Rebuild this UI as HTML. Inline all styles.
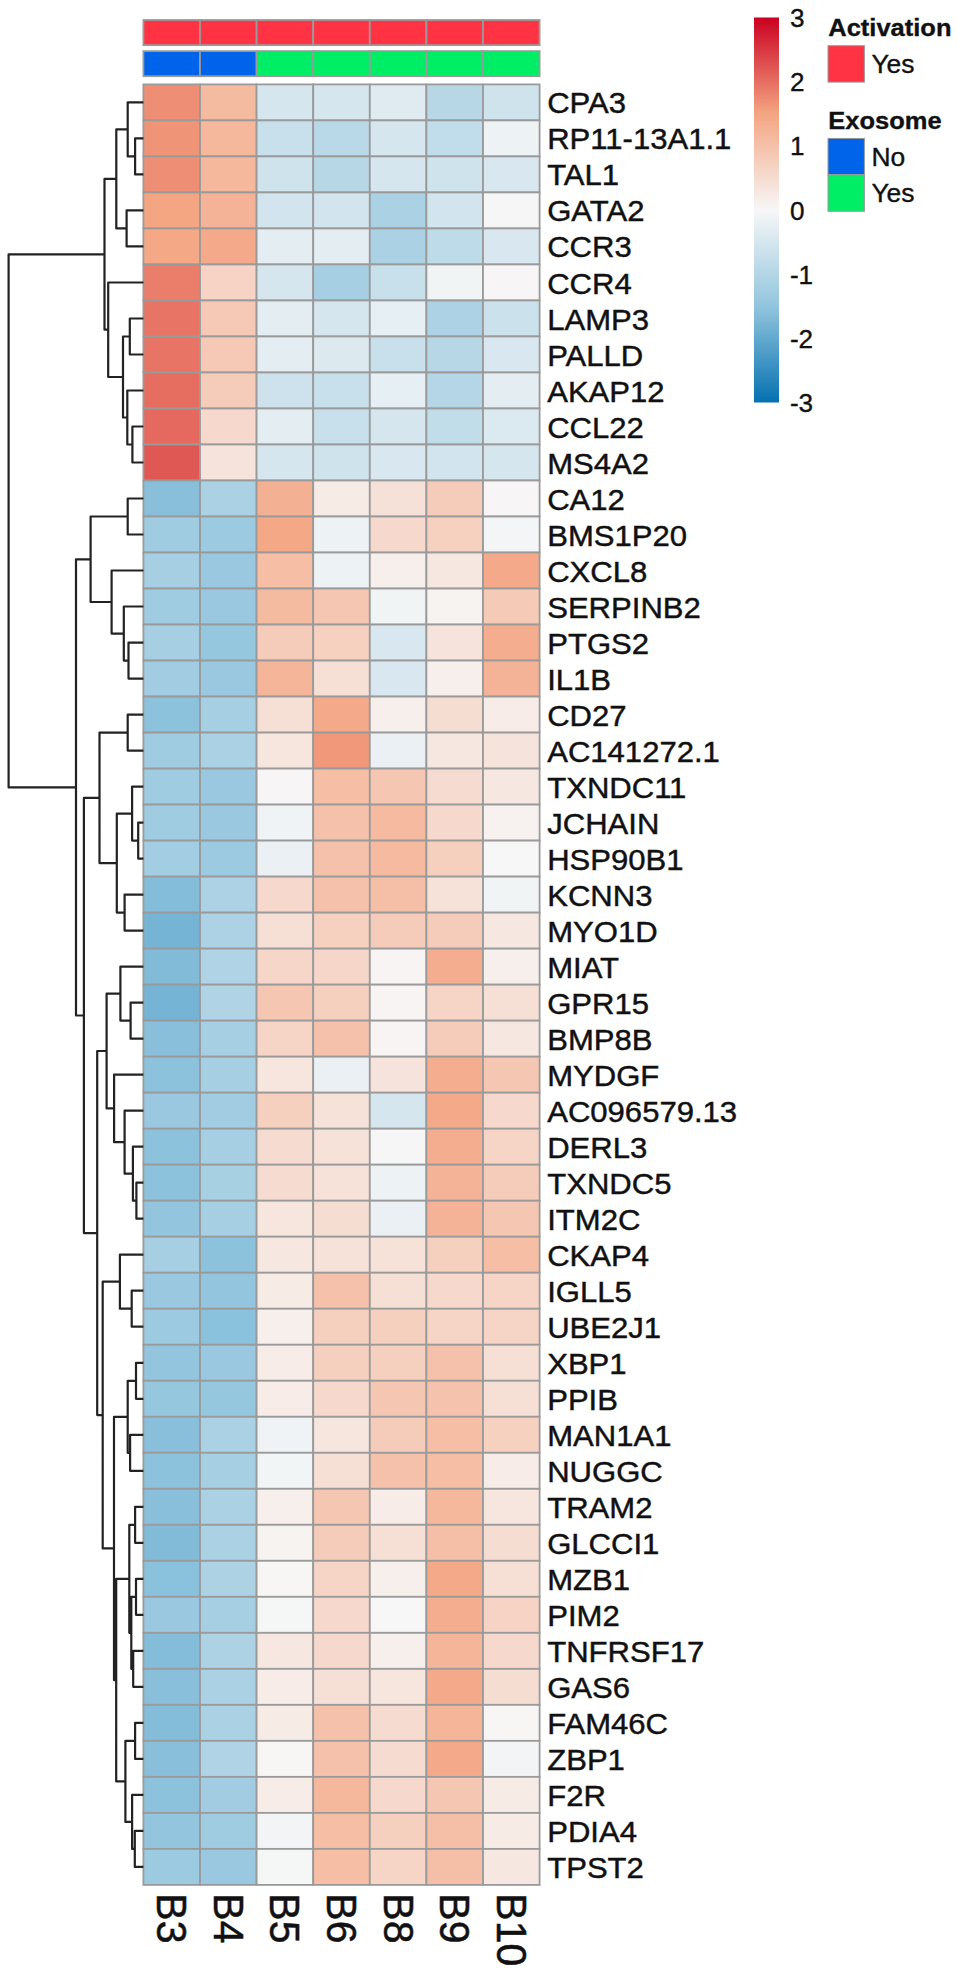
<!DOCTYPE html><html><head><meta charset="utf-8"><title>Heatmap</title><style>html,body{margin:0;padding:0;background:#fff}svg{display:block}</style></head><body>
<svg width="957" height="1974" viewBox="0 0 957 1974">
<rect width="957" height="1974" fill="#fff"/>
<defs><linearGradient id="lg" x1="0" y1="0" x2="0" y2="1"><stop offset="0" stop-color="#ca0020"/><stop offset="0.25" stop-color="#f4a582"/><stop offset="0.5" stop-color="#f7f7f7"/><stop offset="0.75" stop-color="#92c5de"/><stop offset="1" stop-color="#0571b0"/></linearGradient></defs>
<rect x="143.40" y="20.0" width="56.60" height="25.10" fill="#ff3344" stroke="#9a9a9a" stroke-width="1.8"/>
<rect x="200.00" y="20.0" width="56.60" height="25.10" fill="#ff3344" stroke="#9a9a9a" stroke-width="1.8"/>
<rect x="256.60" y="20.0" width="56.60" height="25.10" fill="#ff3344" stroke="#9a9a9a" stroke-width="1.8"/>
<rect x="313.20" y="20.0" width="56.60" height="25.10" fill="#ff3344" stroke="#9a9a9a" stroke-width="1.8"/>
<rect x="369.80" y="20.0" width="56.60" height="25.10" fill="#ff3344" stroke="#9a9a9a" stroke-width="1.8"/>
<rect x="426.40" y="20.0" width="56.60" height="25.10" fill="#ff3344" stroke="#9a9a9a" stroke-width="1.8"/>
<rect x="483.00" y="20.0" width="56.60" height="25.10" fill="#ff3344" stroke="#9a9a9a" stroke-width="1.8"/>
<rect x="143.40" y="51.1" width="56.60" height="25.10" fill="#0064eb" stroke="#9a9a9a" stroke-width="1.8"/>
<rect x="200.00" y="51.1" width="56.60" height="25.10" fill="#0064eb" stroke="#9a9a9a" stroke-width="1.8"/>
<rect x="256.60" y="51.1" width="56.60" height="25.10" fill="#00ee66" stroke="#9a9a9a" stroke-width="1.8"/>
<rect x="313.20" y="51.1" width="56.60" height="25.10" fill="#00ee66" stroke="#9a9a9a" stroke-width="1.8"/>
<rect x="369.80" y="51.1" width="56.60" height="25.10" fill="#00ee66" stroke="#9a9a9a" stroke-width="1.8"/>
<rect x="426.40" y="51.1" width="56.60" height="25.10" fill="#00ee66" stroke="#9a9a9a" stroke-width="1.8"/>
<rect x="483.00" y="51.1" width="56.60" height="25.10" fill="#00ee66" stroke="#9a9a9a" stroke-width="1.8"/>
<g stroke="#9a9a9a" stroke-width="1.8">
<rect x="143.40" y="84.40" width="56.60" height="36.01" fill="#ee8f75"/>
<rect x="200.00" y="84.40" width="56.60" height="36.01" fill="#f5bba1"/>
<rect x="256.60" y="84.40" width="56.60" height="36.01" fill="#d5e6ef"/>
<rect x="313.20" y="84.40" width="56.60" height="36.01" fill="#d5e6ef"/>
<rect x="369.80" y="84.40" width="56.60" height="36.01" fill="#dfebf1"/>
<rect x="426.40" y="84.40" width="56.60" height="36.01" fill="#b7d7e7"/>
<rect x="483.00" y="84.40" width="56.60" height="36.01" fill="#cfe3ed"/>
<rect x="143.40" y="120.41" width="56.60" height="36.01" fill="#f09478"/>
<rect x="200.00" y="120.41" width="56.60" height="36.01" fill="#f5b89d"/>
<rect x="256.60" y="120.41" width="56.60" height="36.01" fill="#c8e0eb"/>
<rect x="313.20" y="120.41" width="56.60" height="36.01" fill="#bad9e8"/>
<rect x="369.80" y="120.41" width="56.60" height="36.01" fill="#d5e6ef"/>
<rect x="426.40" y="120.41" width="56.60" height="36.01" fill="#c1dcea"/>
<rect x="483.00" y="120.41" width="56.60" height="36.01" fill="#edf2f4"/>
<rect x="143.40" y="156.42" width="56.60" height="36.01" fill="#ee8f75"/>
<rect x="200.00" y="156.42" width="56.60" height="36.01" fill="#f5b89d"/>
<rect x="256.60" y="156.42" width="56.60" height="36.01" fill="#cfe3ed"/>
<rect x="313.20" y="156.42" width="56.60" height="36.01" fill="#b7d7e7"/>
<rect x="369.80" y="156.42" width="56.60" height="36.01" fill="#d5e6ef"/>
<rect x="426.40" y="156.42" width="56.60" height="36.01" fill="#cfe3ed"/>
<rect x="483.00" y="156.42" width="56.60" height="36.01" fill="#d9e8f0"/>
<rect x="143.40" y="192.43" width="56.60" height="36.01" fill="#f4a582"/>
<rect x="200.00" y="192.43" width="56.60" height="36.01" fill="#f4b396"/>
<rect x="256.60" y="192.43" width="56.60" height="36.01" fill="#d2e5ee"/>
<rect x="313.20" y="192.43" width="56.60" height="36.01" fill="#d2e5ee"/>
<rect x="369.80" y="192.43" width="56.60" height="36.01" fill="#aad1e4"/>
<rect x="426.40" y="192.43" width="56.60" height="36.01" fill="#d2e5ee"/>
<rect x="483.00" y="192.43" width="56.60" height="36.01" fill="#f6f6f7"/>
<rect x="143.40" y="228.44" width="56.60" height="36.01" fill="#f4a886"/>
<rect x="200.00" y="228.44" width="56.60" height="36.01" fill="#f4aa8a"/>
<rect x="256.60" y="228.44" width="56.60" height="36.01" fill="#e3edf2"/>
<rect x="313.20" y="228.44" width="56.60" height="36.01" fill="#e3edf2"/>
<rect x="369.80" y="228.44" width="56.60" height="36.01" fill="#aad1e4"/>
<rect x="426.40" y="228.44" width="56.60" height="36.01" fill="#bedbe9"/>
<rect x="483.00" y="228.44" width="56.60" height="36.01" fill="#d9e8f0"/>
<rect x="143.40" y="264.45" width="56.60" height="36.01" fill="#ea7e6b"/>
<rect x="200.00" y="264.45" width="56.60" height="36.01" fill="#f6d3c4"/>
<rect x="256.60" y="264.45" width="56.60" height="36.01" fill="#d5e6ef"/>
<rect x="313.20" y="264.45" width="56.60" height="36.01" fill="#a6cfe3"/>
<rect x="369.80" y="264.45" width="56.60" height="36.01" fill="#c8e0eb"/>
<rect x="426.40" y="264.45" width="56.60" height="36.01" fill="#f0f4f5"/>
<rect x="483.00" y="264.45" width="56.60" height="36.01" fill="#f7f5f5"/>
<rect x="143.40" y="300.46" width="56.60" height="36.01" fill="#e77465"/>
<rect x="200.00" y="300.46" width="56.60" height="36.01" fill="#f5c9b5"/>
<rect x="256.60" y="300.46" width="56.60" height="36.01" fill="#e3edf2"/>
<rect x="313.20" y="300.46" width="56.60" height="36.01" fill="#d5e6ef"/>
<rect x="369.80" y="300.46" width="56.60" height="36.01" fill="#e6eff3"/>
<rect x="426.40" y="300.46" width="56.60" height="36.01" fill="#add2e5"/>
<rect x="483.00" y="300.46" width="56.60" height="36.01" fill="#cbe1ec"/>
<rect x="143.40" y="336.47" width="56.60" height="36.01" fill="#e77465"/>
<rect x="200.00" y="336.47" width="56.60" height="36.01" fill="#f5c9b5"/>
<rect x="256.60" y="336.47" width="56.60" height="36.01" fill="#e3edf2"/>
<rect x="313.20" y="336.47" width="56.60" height="36.01" fill="#dceaf0"/>
<rect x="369.80" y="336.47" width="56.60" height="36.01" fill="#c8e0eb"/>
<rect x="426.40" y="336.47" width="56.60" height="36.01" fill="#b7d7e7"/>
<rect x="483.00" y="336.47" width="56.60" height="36.01" fill="#d9e8f0"/>
<rect x="143.40" y="372.48" width="56.60" height="36.01" fill="#e66e61"/>
<rect x="200.00" y="372.48" width="56.60" height="36.01" fill="#f5ccba"/>
<rect x="256.60" y="372.48" width="56.60" height="36.01" fill="#cde2ed"/>
<rect x="313.20" y="372.48" width="56.60" height="36.01" fill="#c8e0eb"/>
<rect x="369.80" y="372.48" width="56.60" height="36.01" fill="#e6eff3"/>
<rect x="426.40" y="372.48" width="56.60" height="36.01" fill="#b4d6e6"/>
<rect x="483.00" y="372.48" width="56.60" height="36.01" fill="#e3edf2"/>
<rect x="143.40" y="408.49" width="56.60" height="36.01" fill="#e5695e"/>
<rect x="200.00" y="408.49" width="56.60" height="36.01" fill="#f6d9cc"/>
<rect x="256.60" y="408.49" width="56.60" height="36.01" fill="#e3edf2"/>
<rect x="313.20" y="408.49" width="56.60" height="36.01" fill="#c8e0eb"/>
<rect x="369.80" y="408.49" width="56.60" height="36.01" fill="#d5e6ef"/>
<rect x="426.40" y="408.49" width="56.60" height="36.01" fill="#c2ddea"/>
<rect x="483.00" y="408.49" width="56.60" height="36.01" fill="#dbe9f0"/>
<rect x="143.40" y="444.50" width="56.60" height="36.01" fill="#e05854"/>
<rect x="200.00" y="444.50" width="56.60" height="36.01" fill="#f6e4dc"/>
<rect x="256.60" y="444.50" width="56.60" height="36.01" fill="#d5e6ef"/>
<rect x="313.20" y="444.50" width="56.60" height="36.01" fill="#cfe3ed"/>
<rect x="369.80" y="444.50" width="56.60" height="36.01" fill="#d9e8f0"/>
<rect x="426.40" y="444.50" width="56.60" height="36.01" fill="#d2e5ee"/>
<rect x="483.00" y="444.50" width="56.60" height="36.01" fill="#d5e6ef"/>
<rect x="143.40" y="480.51" width="56.60" height="36.01" fill="#89bfdb"/>
<rect x="200.00" y="480.51" width="56.60" height="36.01" fill="#aad1e4"/>
<rect x="256.60" y="480.51" width="56.60" height="36.01" fill="#f4b092"/>
<rect x="313.20" y="480.51" width="56.60" height="36.01" fill="#f7ebe6"/>
<rect x="369.80" y="480.51" width="56.60" height="36.01" fill="#f6e1d8"/>
<rect x="426.40" y="480.51" width="56.60" height="36.01" fill="#f5ccba"/>
<rect x="483.00" y="480.51" width="56.60" height="36.01" fill="#f7f5f5"/>
<rect x="143.40" y="516.52" width="56.60" height="36.01" fill="#9fcce1"/>
<rect x="200.00" y="516.52" width="56.60" height="36.01" fill="#9ccae0"/>
<rect x="256.60" y="516.52" width="56.60" height="36.01" fill="#f4a886"/>
<rect x="313.20" y="516.52" width="56.60" height="36.01" fill="#edf2f4"/>
<rect x="369.80" y="516.52" width="56.60" height="36.01" fill="#f6d9cc"/>
<rect x="426.40" y="516.52" width="56.60" height="36.01" fill="#f6d1c0"/>
<rect x="483.00" y="516.52" width="56.60" height="36.01" fill="#f4f5f6"/>
<rect x="143.40" y="552.53" width="56.60" height="36.01" fill="#a6cfe3"/>
<rect x="200.00" y="552.53" width="56.60" height="36.01" fill="#99c8e0"/>
<rect x="256.60" y="552.53" width="56.60" height="36.01" fill="#f5bea5"/>
<rect x="313.20" y="552.53" width="56.60" height="36.01" fill="#edf2f4"/>
<rect x="369.80" y="552.53" width="56.60" height="36.01" fill="#f7efeb"/>
<rect x="426.40" y="552.53" width="56.60" height="36.01" fill="#f6e7e0"/>
<rect x="483.00" y="552.53" width="56.60" height="36.01" fill="#f4aa8a"/>
<rect x="143.40" y="588.54" width="56.60" height="36.01" fill="#9fcce1"/>
<rect x="200.00" y="588.54" width="56.60" height="36.01" fill="#99c8e0"/>
<rect x="256.60" y="588.54" width="56.60" height="36.01" fill="#f5bba1"/>
<rect x="313.20" y="588.54" width="56.60" height="36.01" fill="#f5c7b2"/>
<rect x="369.80" y="588.54" width="56.60" height="36.01" fill="#f0f4f5"/>
<rect x="426.40" y="588.54" width="56.60" height="36.01" fill="#f7f3f1"/>
<rect x="483.00" y="588.54" width="56.60" height="36.01" fill="#f5cab7"/>
<rect x="143.40" y="624.55" width="56.60" height="36.01" fill="#a6cfe3"/>
<rect x="200.00" y="624.55" width="56.60" height="36.01" fill="#95c7df"/>
<rect x="256.60" y="624.55" width="56.60" height="36.01" fill="#f5ccba"/>
<rect x="313.20" y="624.55" width="56.60" height="36.01" fill="#f6d1c0"/>
<rect x="369.80" y="624.55" width="56.60" height="36.01" fill="#d9e8f0"/>
<rect x="426.40" y="624.55" width="56.60" height="36.01" fill="#f6e4dc"/>
<rect x="483.00" y="624.55" width="56.60" height="36.01" fill="#f4ad8e"/>
<rect x="143.40" y="660.56" width="56.60" height="36.01" fill="#a1cce2"/>
<rect x="200.00" y="660.56" width="56.60" height="36.01" fill="#99c8e0"/>
<rect x="256.60" y="660.56" width="56.60" height="36.01" fill="#f5b599"/>
<rect x="313.20" y="660.56" width="56.60" height="36.01" fill="#f6e0d6"/>
<rect x="369.80" y="660.56" width="56.60" height="36.01" fill="#d9e8f0"/>
<rect x="426.40" y="660.56" width="56.60" height="36.01" fill="#f7efeb"/>
<rect x="483.00" y="660.56" width="56.60" height="36.01" fill="#f4b396"/>
<rect x="143.40" y="696.57" width="56.60" height="36.01" fill="#8dc2dc"/>
<rect x="200.00" y="696.57" width="56.60" height="36.01" fill="#a6cfe3"/>
<rect x="256.60" y="696.57" width="56.60" height="36.01" fill="#f6e0d6"/>
<rect x="313.20" y="696.57" width="56.60" height="36.01" fill="#f4aa8a"/>
<rect x="369.80" y="696.57" width="56.60" height="36.01" fill="#f7efeb"/>
<rect x="426.40" y="696.57" width="56.60" height="36.01" fill="#f6ddd2"/>
<rect x="483.00" y="696.57" width="56.60" height="36.01" fill="#f7ece7"/>
<rect x="143.40" y="732.58" width="56.60" height="36.01" fill="#9fcce1"/>
<rect x="200.00" y="732.58" width="56.60" height="36.01" fill="#aad1e4"/>
<rect x="256.60" y="732.58" width="56.60" height="36.01" fill="#f6e6de"/>
<rect x="313.20" y="732.58" width="56.60" height="36.01" fill="#f1987a"/>
<rect x="369.80" y="732.58" width="56.60" height="36.01" fill="#eaf0f4"/>
<rect x="426.40" y="732.58" width="56.60" height="36.01" fill="#f6e8e1"/>
<rect x="483.00" y="732.58" width="56.60" height="36.01" fill="#f6e3db"/>
<rect x="143.40" y="768.59" width="56.60" height="36.01" fill="#9fcce1"/>
<rect x="200.00" y="768.59" width="56.60" height="36.01" fill="#99c8e0"/>
<rect x="256.60" y="768.59" width="56.60" height="36.01" fill="#f7f5f5"/>
<rect x="313.20" y="768.59" width="56.60" height="36.01" fill="#f5bea5"/>
<rect x="369.80" y="768.59" width="56.60" height="36.01" fill="#f5c6b1"/>
<rect x="426.40" y="768.59" width="56.60" height="36.01" fill="#f6dcd0"/>
<rect x="483.00" y="768.59" width="56.60" height="36.01" fill="#f6e8e1"/>
<rect x="143.40" y="804.60" width="56.60" height="36.01" fill="#9fcce1"/>
<rect x="200.00" y="804.60" width="56.60" height="36.01" fill="#99c8e0"/>
<rect x="256.60" y="804.60" width="56.60" height="36.01" fill="#eff3f5"/>
<rect x="313.20" y="804.60" width="56.60" height="36.01" fill="#f5c1ab"/>
<rect x="369.80" y="804.60" width="56.60" height="36.01" fill="#f5baa0"/>
<rect x="426.40" y="804.60" width="56.60" height="36.01" fill="#f6d9cc"/>
<rect x="483.00" y="804.60" width="56.60" height="36.01" fill="#f7f2ef"/>
<rect x="143.40" y="840.61" width="56.60" height="36.01" fill="#a3cde2"/>
<rect x="200.00" y="840.61" width="56.60" height="36.01" fill="#9ccae0"/>
<rect x="256.60" y="840.61" width="56.60" height="36.01" fill="#eaf0f4"/>
<rect x="313.20" y="840.61" width="56.60" height="36.01" fill="#f5c1ab"/>
<rect x="369.80" y="840.61" width="56.60" height="36.01" fill="#f5baa0"/>
<rect x="426.40" y="840.61" width="56.60" height="36.01" fill="#f6d0bf"/>
<rect x="483.00" y="840.61" width="56.60" height="36.01" fill="#f7f7f7"/>
<rect x="143.40" y="876.62" width="56.60" height="36.01" fill="#84bdd9"/>
<rect x="200.00" y="876.62" width="56.60" height="36.01" fill="#add2e5"/>
<rect x="256.60" y="876.62" width="56.60" height="36.01" fill="#f6d9cc"/>
<rect x="313.20" y="876.62" width="56.60" height="36.01" fill="#f5c1ab"/>
<rect x="369.80" y="876.62" width="56.60" height="36.01" fill="#f5bfa7"/>
<rect x="426.40" y="876.62" width="56.60" height="36.01" fill="#f6e2d9"/>
<rect x="483.00" y="876.62" width="56.60" height="36.01" fill="#f0f4f5"/>
<rect x="143.40" y="912.63" width="56.60" height="36.01" fill="#76b4d5"/>
<rect x="200.00" y="912.63" width="56.60" height="36.01" fill="#add2e5"/>
<rect x="256.60" y="912.63" width="56.60" height="36.01" fill="#f6e0d6"/>
<rect x="313.20" y="912.63" width="56.60" height="36.01" fill="#f6d1c0"/>
<rect x="369.80" y="912.63" width="56.60" height="36.01" fill="#f5ccba"/>
<rect x="426.40" y="912.63" width="56.60" height="36.01" fill="#f5ccba"/>
<rect x="483.00" y="912.63" width="56.60" height="36.01" fill="#f6e8e1"/>
<rect x="143.40" y="948.64" width="56.60" height="36.01" fill="#81bbd8"/>
<rect x="200.00" y="948.64" width="56.60" height="36.01" fill="#b0d4e6"/>
<rect x="256.60" y="948.64" width="56.60" height="36.01" fill="#f6d6c8"/>
<rect x="313.20" y="948.64" width="56.60" height="36.01" fill="#f6d6c8"/>
<rect x="369.80" y="948.64" width="56.60" height="36.01" fill="#f7f4f3"/>
<rect x="426.40" y="948.64" width="56.60" height="36.01" fill="#f4ad8e"/>
<rect x="483.00" y="948.64" width="56.60" height="36.01" fill="#f7efeb"/>
<rect x="143.40" y="984.65" width="56.60" height="36.01" fill="#76b4d5"/>
<rect x="200.00" y="984.65" width="56.60" height="36.01" fill="#b0d4e6"/>
<rect x="256.60" y="984.65" width="56.60" height="36.01" fill="#f5c7b2"/>
<rect x="313.20" y="984.65" width="56.60" height="36.01" fill="#f6d0bf"/>
<rect x="369.80" y="984.65" width="56.60" height="36.01" fill="#f7f4f3"/>
<rect x="426.40" y="984.65" width="56.60" height="36.01" fill="#f6d5c7"/>
<rect x="483.00" y="984.65" width="56.60" height="36.01" fill="#f6e0d6"/>
<rect x="143.40" y="1020.66" width="56.60" height="36.01" fill="#89bfdb"/>
<rect x="200.00" y="1020.66" width="56.60" height="36.01" fill="#a6cfe3"/>
<rect x="256.60" y="1020.66" width="56.60" height="36.01" fill="#f6d5c7"/>
<rect x="313.20" y="1020.66" width="56.60" height="36.01" fill="#f5c1ab"/>
<rect x="369.80" y="1020.66" width="56.60" height="36.01" fill="#f7f4f3"/>
<rect x="426.40" y="1020.66" width="56.60" height="36.01" fill="#f5ccba"/>
<rect x="483.00" y="1020.66" width="56.60" height="36.01" fill="#f6e8e1"/>
<rect x="143.40" y="1056.67" width="56.60" height="36.01" fill="#8dc2dc"/>
<rect x="200.00" y="1056.67" width="56.60" height="36.01" fill="#a6cfe3"/>
<rect x="256.60" y="1056.67" width="56.60" height="36.01" fill="#f6e6de"/>
<rect x="313.20" y="1056.67" width="56.60" height="36.01" fill="#eaf0f4"/>
<rect x="369.80" y="1056.67" width="56.60" height="36.01" fill="#f6e4dc"/>
<rect x="426.40" y="1056.67" width="56.60" height="36.01" fill="#f4ad8e"/>
<rect x="483.00" y="1056.67" width="56.60" height="36.01" fill="#f5c7b2"/>
<rect x="143.40" y="1092.68" width="56.60" height="36.01" fill="#99c8e0"/>
<rect x="200.00" y="1092.68" width="56.60" height="36.01" fill="#a1cce2"/>
<rect x="256.60" y="1092.68" width="56.60" height="36.01" fill="#f6d0bf"/>
<rect x="313.20" y="1092.68" width="56.60" height="36.01" fill="#f6e2d9"/>
<rect x="369.80" y="1092.68" width="56.60" height="36.01" fill="#d5e6ef"/>
<rect x="426.40" y="1092.68" width="56.60" height="36.01" fill="#f4a988"/>
<rect x="483.00" y="1092.68" width="56.60" height="36.01" fill="#f6d9cc"/>
<rect x="143.40" y="1128.69" width="56.60" height="36.01" fill="#8dc2dc"/>
<rect x="200.00" y="1128.69" width="56.60" height="36.01" fill="#a6cfe3"/>
<rect x="256.60" y="1128.69" width="56.60" height="36.01" fill="#f6dcd0"/>
<rect x="313.20" y="1128.69" width="56.60" height="36.01" fill="#f6e2d9"/>
<rect x="369.80" y="1128.69" width="56.60" height="36.01" fill="#f6f6f7"/>
<rect x="426.40" y="1128.69" width="56.60" height="36.01" fill="#f4ad8e"/>
<rect x="483.00" y="1128.69" width="56.60" height="36.01" fill="#f6d5c7"/>
<rect x="143.40" y="1164.70" width="56.60" height="36.01" fill="#8dc2dc"/>
<rect x="200.00" y="1164.70" width="56.60" height="36.01" fill="#a8d0e3"/>
<rect x="256.60" y="1164.70" width="56.60" height="36.01" fill="#f6dcd0"/>
<rect x="313.20" y="1164.70" width="56.60" height="36.01" fill="#f6e2d9"/>
<rect x="369.80" y="1164.70" width="56.60" height="36.01" fill="#edf2f4"/>
<rect x="426.40" y="1164.70" width="56.60" height="36.01" fill="#f4b396"/>
<rect x="483.00" y="1164.70" width="56.60" height="36.01" fill="#f5ccba"/>
<rect x="143.40" y="1200.71" width="56.60" height="36.01" fill="#93c6de"/>
<rect x="200.00" y="1200.71" width="56.60" height="36.01" fill="#a6cfe3"/>
<rect x="256.60" y="1200.71" width="56.60" height="36.01" fill="#f6e6de"/>
<rect x="313.20" y="1200.71" width="56.60" height="36.01" fill="#f6ddd2"/>
<rect x="369.80" y="1200.71" width="56.60" height="36.01" fill="#eaf0f4"/>
<rect x="426.40" y="1200.71" width="56.60" height="36.01" fill="#f4b396"/>
<rect x="483.00" y="1200.71" width="56.60" height="36.01" fill="#f5c7b2"/>
<rect x="143.40" y="1236.72" width="56.60" height="36.01" fill="#a6cfe3"/>
<rect x="200.00" y="1236.72" width="56.60" height="36.01" fill="#8dc2dc"/>
<rect x="256.60" y="1236.72" width="56.60" height="36.01" fill="#f6e8e1"/>
<rect x="313.20" y="1236.72" width="56.60" height="36.01" fill="#f6e2d9"/>
<rect x="369.80" y="1236.72" width="56.60" height="36.01" fill="#f6e2d9"/>
<rect x="426.40" y="1236.72" width="56.60" height="36.01" fill="#f6d0bf"/>
<rect x="483.00" y="1236.72" width="56.60" height="36.01" fill="#f5bea5"/>
<rect x="143.40" y="1272.73" width="56.60" height="36.01" fill="#99c8e0"/>
<rect x="200.00" y="1272.73" width="56.60" height="36.01" fill="#93c6de"/>
<rect x="256.60" y="1272.73" width="56.60" height="36.01" fill="#f7ebe6"/>
<rect x="313.20" y="1272.73" width="56.60" height="36.01" fill="#f5c1ab"/>
<rect x="369.80" y="1272.73" width="56.60" height="36.01" fill="#f6e0d6"/>
<rect x="426.40" y="1272.73" width="56.60" height="36.01" fill="#f6d9cc"/>
<rect x="483.00" y="1272.73" width="56.60" height="36.01" fill="#f6d5c7"/>
<rect x="143.40" y="1308.74" width="56.60" height="36.01" fill="#9ccae0"/>
<rect x="200.00" y="1308.74" width="56.60" height="36.01" fill="#8ac1dc"/>
<rect x="256.60" y="1308.74" width="56.60" height="36.01" fill="#f7efeb"/>
<rect x="313.20" y="1308.74" width="56.60" height="36.01" fill="#f6d0bf"/>
<rect x="369.80" y="1308.74" width="56.60" height="36.01" fill="#f6d0bf"/>
<rect x="426.40" y="1308.74" width="56.60" height="36.01" fill="#f6d5c7"/>
<rect x="483.00" y="1308.74" width="56.60" height="36.01" fill="#f6d5c7"/>
<rect x="143.40" y="1344.75" width="56.60" height="36.01" fill="#93c6de"/>
<rect x="200.00" y="1344.75" width="56.60" height="36.01" fill="#99c8e0"/>
<rect x="256.60" y="1344.75" width="56.60" height="36.01" fill="#f7ece7"/>
<rect x="313.20" y="1344.75" width="56.60" height="36.01" fill="#f6d0bf"/>
<rect x="369.80" y="1344.75" width="56.60" height="36.01" fill="#f6d0bf"/>
<rect x="426.40" y="1344.75" width="56.60" height="36.01" fill="#f5c1ab"/>
<rect x="483.00" y="1344.75" width="56.60" height="36.01" fill="#f6e0d6"/>
<rect x="143.40" y="1380.76" width="56.60" height="36.01" fill="#95c7df"/>
<rect x="200.00" y="1380.76" width="56.60" height="36.01" fill="#95c7df"/>
<rect x="256.60" y="1380.76" width="56.60" height="36.01" fill="#f7ece7"/>
<rect x="313.20" y="1380.76" width="56.60" height="36.01" fill="#f6d9cc"/>
<rect x="369.80" y="1380.76" width="56.60" height="36.01" fill="#f5c7b2"/>
<rect x="426.40" y="1380.76" width="56.60" height="36.01" fill="#f5c3ad"/>
<rect x="483.00" y="1380.76" width="56.60" height="36.01" fill="#f6e0d6"/>
<rect x="143.40" y="1416.77" width="56.60" height="36.01" fill="#89bfdb"/>
<rect x="200.00" y="1416.77" width="56.60" height="36.01" fill="#aad1e4"/>
<rect x="256.60" y="1416.77" width="56.60" height="36.01" fill="#eff3f5"/>
<rect x="313.20" y="1416.77" width="56.60" height="36.01" fill="#f6e6de"/>
<rect x="369.80" y="1416.77" width="56.60" height="36.01" fill="#f5ccba"/>
<rect x="426.40" y="1416.77" width="56.60" height="36.01" fill="#f5bea5"/>
<rect x="483.00" y="1416.77" width="56.60" height="36.01" fill="#f6d1c0"/>
<rect x="143.40" y="1452.78" width="56.60" height="36.01" fill="#8dc2dc"/>
<rect x="200.00" y="1452.78" width="56.60" height="36.01" fill="#a6cfe3"/>
<rect x="256.60" y="1452.78" width="56.60" height="36.01" fill="#f2f5f6"/>
<rect x="313.20" y="1452.78" width="56.60" height="36.01" fill="#f6e0d6"/>
<rect x="369.80" y="1452.78" width="56.60" height="36.01" fill="#f5c1ab"/>
<rect x="426.40" y="1452.78" width="56.60" height="36.01" fill="#f5bea5"/>
<rect x="483.00" y="1452.78" width="56.60" height="36.01" fill="#f7ece7"/>
<rect x="143.40" y="1488.79" width="56.60" height="36.01" fill="#89bfdb"/>
<rect x="200.00" y="1488.79" width="56.60" height="36.01" fill="#aad1e4"/>
<rect x="256.60" y="1488.79" width="56.60" height="36.01" fill="#f7efeb"/>
<rect x="313.20" y="1488.79" width="56.60" height="36.01" fill="#f5c7b2"/>
<rect x="369.80" y="1488.79" width="56.60" height="36.01" fill="#f7ece7"/>
<rect x="426.40" y="1488.79" width="56.60" height="36.01" fill="#f5b89d"/>
<rect x="483.00" y="1488.79" width="56.60" height="36.01" fill="#f6e6de"/>
<rect x="143.40" y="1524.80" width="56.60" height="36.01" fill="#81bbd8"/>
<rect x="200.00" y="1524.80" width="56.60" height="36.01" fill="#aad1e4"/>
<rect x="256.60" y="1524.80" width="56.60" height="36.01" fill="#f7f3f1"/>
<rect x="313.20" y="1524.80" width="56.60" height="36.01" fill="#f5ccba"/>
<rect x="369.80" y="1524.80" width="56.60" height="36.01" fill="#f6e0d6"/>
<rect x="426.40" y="1524.80" width="56.60" height="36.01" fill="#f5bfa7"/>
<rect x="483.00" y="1524.80" width="56.60" height="36.01" fill="#f6ddd2"/>
<rect x="143.40" y="1560.81" width="56.60" height="36.01" fill="#8ac1dc"/>
<rect x="200.00" y="1560.81" width="56.60" height="36.01" fill="#acd2e4"/>
<rect x="256.60" y="1560.81" width="56.60" height="36.01" fill="#f7f6f5"/>
<rect x="313.20" y="1560.81" width="56.60" height="36.01" fill="#f6d5c7"/>
<rect x="369.80" y="1560.81" width="56.60" height="36.01" fill="#f7efeb"/>
<rect x="426.40" y="1560.81" width="56.60" height="36.01" fill="#f4a988"/>
<rect x="483.00" y="1560.81" width="56.60" height="36.01" fill="#f6e0d6"/>
<rect x="143.40" y="1596.82" width="56.60" height="36.01" fill="#99c8e0"/>
<rect x="200.00" y="1596.82" width="56.60" height="36.01" fill="#a6cfe3"/>
<rect x="256.60" y="1596.82" width="56.60" height="36.01" fill="#f5f6f6"/>
<rect x="313.20" y="1596.82" width="56.60" height="36.01" fill="#f6d9cc"/>
<rect x="369.80" y="1596.82" width="56.60" height="36.01" fill="#f7f7f7"/>
<rect x="426.40" y="1596.82" width="56.60" height="36.01" fill="#f4ad8e"/>
<rect x="483.00" y="1596.82" width="56.60" height="36.01" fill="#f6d3c4"/>
<rect x="143.40" y="1632.83" width="56.60" height="36.01" fill="#84bdd9"/>
<rect x="200.00" y="1632.83" width="56.60" height="36.01" fill="#acd2e4"/>
<rect x="256.60" y="1632.83" width="56.60" height="36.01" fill="#f6e8e1"/>
<rect x="313.20" y="1632.83" width="56.60" height="36.01" fill="#f6d9cc"/>
<rect x="369.80" y="1632.83" width="56.60" height="36.01" fill="#f7efeb"/>
<rect x="426.40" y="1632.83" width="56.60" height="36.01" fill="#f5b599"/>
<rect x="483.00" y="1632.83" width="56.60" height="36.01" fill="#f6d9cc"/>
<rect x="143.40" y="1668.84" width="56.60" height="36.01" fill="#89bfdb"/>
<rect x="200.00" y="1668.84" width="56.60" height="36.01" fill="#aad1e4"/>
<rect x="256.60" y="1668.84" width="56.60" height="36.01" fill="#f7ece7"/>
<rect x="313.20" y="1668.84" width="56.60" height="36.01" fill="#f6e0d6"/>
<rect x="369.80" y="1668.84" width="56.60" height="36.01" fill="#f6e6de"/>
<rect x="426.40" y="1668.84" width="56.60" height="36.01" fill="#f4aa8a"/>
<rect x="483.00" y="1668.84" width="56.60" height="36.01" fill="#f6ddd2"/>
<rect x="143.40" y="1704.85" width="56.60" height="36.01" fill="#84bdd9"/>
<rect x="200.00" y="1704.85" width="56.60" height="36.01" fill="#aad1e4"/>
<rect x="256.60" y="1704.85" width="56.60" height="36.01" fill="#f7ebe6"/>
<rect x="313.20" y="1704.85" width="56.60" height="36.01" fill="#f5c1ab"/>
<rect x="369.80" y="1704.85" width="56.60" height="36.01" fill="#f6dcd0"/>
<rect x="426.40" y="1704.85" width="56.60" height="36.01" fill="#f5b599"/>
<rect x="483.00" y="1704.85" width="56.60" height="36.01" fill="#f7f6f5"/>
<rect x="143.40" y="1740.86" width="56.60" height="36.01" fill="#89bfdb"/>
<rect x="200.00" y="1740.86" width="56.60" height="36.01" fill="#b0d4e6"/>
<rect x="256.60" y="1740.86" width="56.60" height="36.01" fill="#f7f6f5"/>
<rect x="313.20" y="1740.86" width="56.60" height="36.01" fill="#f5c1ab"/>
<rect x="369.80" y="1740.86" width="56.60" height="36.01" fill="#f6dcd0"/>
<rect x="426.40" y="1740.86" width="56.60" height="36.01" fill="#f4aa8a"/>
<rect x="483.00" y="1740.86" width="56.60" height="36.01" fill="#f2f4f6"/>
<rect x="143.40" y="1776.87" width="56.60" height="36.01" fill="#8dc2dc"/>
<rect x="200.00" y="1776.87" width="56.60" height="36.01" fill="#a1cce2"/>
<rect x="256.60" y="1776.87" width="56.60" height="36.01" fill="#f7ece7"/>
<rect x="313.20" y="1776.87" width="56.60" height="36.01" fill="#f5b89d"/>
<rect x="369.80" y="1776.87" width="56.60" height="36.01" fill="#f6d9cc"/>
<rect x="426.40" y="1776.87" width="56.60" height="36.01" fill="#f5c7b2"/>
<rect x="483.00" y="1776.87" width="56.60" height="36.01" fill="#f7ebe6"/>
<rect x="143.40" y="1812.88" width="56.60" height="36.01" fill="#93c6de"/>
<rect x="200.00" y="1812.88" width="56.60" height="36.01" fill="#9fcce1"/>
<rect x="256.60" y="1812.88" width="56.60" height="36.01" fill="#f2f4f6"/>
<rect x="313.20" y="1812.88" width="56.60" height="36.01" fill="#f5bea5"/>
<rect x="369.80" y="1812.88" width="56.60" height="36.01" fill="#f6d0bf"/>
<rect x="426.40" y="1812.88" width="56.60" height="36.01" fill="#f5bfa7"/>
<rect x="483.00" y="1812.88" width="56.60" height="36.01" fill="#f7ebe6"/>
<rect x="143.40" y="1848.89" width="56.60" height="36.01" fill="#9ccae0"/>
<rect x="200.00" y="1848.89" width="56.60" height="36.01" fill="#99c8e0"/>
<rect x="256.60" y="1848.89" width="56.60" height="36.01" fill="#f5f6f6"/>
<rect x="313.20" y="1848.89" width="56.60" height="36.01" fill="#f5bea5"/>
<rect x="369.80" y="1848.89" width="56.60" height="36.01" fill="#f6d5c7"/>
<rect x="426.40" y="1848.89" width="56.60" height="36.01" fill="#f5bfa7"/>
<rect x="483.00" y="1848.89" width="56.60" height="36.01" fill="#f6e8e1"/>
</g>
<path d="M143.4 138.4H135.1V174.4H143.4M143.4 102.4H127.7V156.4H135.1M143.4 210.4H126.6V246.4H143.4M127.7 129.4H116.3V228.4H126.6M143.4 318.5H129.8V354.5H143.4M143.4 426.5H132.4V462.5H143.4M143.4 390.5H127.3V444.5H132.4M129.8 336.5H123.0V417.5H127.3M143.4 282.5H108.2V377.0H123.0M116.3 178.9H104.5V329.7H108.2M143.4 498.5H127.7V534.5H143.4M143.4 642.6H128.5V678.6H143.4M143.4 606.5H123.8V660.6H128.5M143.4 570.5H111.6V633.6H123.8M127.7 516.5H90.6V602.0H111.6M143.4 714.6H127.7V750.6H143.4M143.4 822.6H138.2V858.6H143.4M143.4 786.6H132.1V840.6H138.2M143.4 894.6H124.6V930.6H143.4M132.1 813.6H116.8V912.6H124.6M127.7 732.6H99.5V863.1H116.8M143.4 1002.7H130.6V1038.7H143.4M143.4 966.6H120.4V1020.7H130.6M143.4 1182.7H136.4V1218.7H143.4M143.4 1146.7H132.9V1200.7H136.4M143.4 1110.7H124.6V1173.7H132.9M143.4 1074.7H114.1V1142.2H124.6M120.4 993.7H106.6V1108.4H114.1M143.4 1290.7H131.7V1326.7H143.4M143.4 1254.7H119.9V1308.7H131.7M143.4 1362.8H136.0V1398.8H143.4M143.4 1434.8H130.1V1470.8H143.4M136.0 1380.8H127.7V1452.8H130.1M143.4 1506.8H135.1V1542.8H143.4M143.4 1578.8H136.0V1614.8H143.4M143.4 1650.8H133.2V1686.8H143.4M136.0 1596.8H131.3V1668.8H133.2M135.1 1524.8H129.3V1632.8H131.3M143.4 1722.9H135.1V1758.9H143.4M143.4 1830.9H134.8V1866.9H143.4M143.4 1794.9H132.1V1848.9H134.8M135.1 1740.9H125.4V1821.9H132.1M129.3 1578.8H116.2V1781.4H125.4M127.7 1416.8H114.0V1680.1H116.2M119.9 1281.7H102.7V1548.4H114.0M106.6 1051.0H97.2V1415.1H102.7M99.5 797.8H83.9V1233.1H97.2M90.6 559.3H76.0V1015.5H83.9M104.5 254.3H8.6V787.4H76.0" fill="none" stroke="#222" stroke-width="2.2" stroke-linejoin="round"/>
<g font-family="Liberation Sans, Arial, Helvetica, sans-serif" font-size="30.4" fill="#111" stroke="#111" stroke-width="0.45">
<text transform="translate(547.2 113.4) scale(1.022 1)">CPA3</text>
<text transform="translate(547.2 149.4) scale(1.022 1)">RP11-13A1.1</text>
<text transform="translate(547.2 185.4) scale(1.022 1)">TAL1</text>
<text transform="translate(547.2 221.4) scale(1.022 1)">GATA2</text>
<text transform="translate(547.2 257.4) scale(1.022 1)">CCR3</text>
<text transform="translate(547.2 293.5) scale(1.022 1)">CCR4</text>
<text transform="translate(547.2 329.5) scale(1.022 1)">LAMP3</text>
<text transform="translate(547.2 365.5) scale(1.022 1)">PALLD</text>
<text transform="translate(547.2 401.5) scale(1.022 1)">AKAP12</text>
<text transform="translate(547.2 437.5) scale(1.022 1)">CCL22</text>
<text transform="translate(547.2 473.5) scale(1.022 1)">MS4A2</text>
<text transform="translate(547.2 509.5) scale(1.022 1)">CA12</text>
<text transform="translate(547.2 545.5) scale(1.022 1)">BMS1P20</text>
<text transform="translate(547.2 581.5) scale(1.022 1)">CXCL8</text>
<text transform="translate(547.2 617.5) scale(1.022 1)">SERPINB2</text>
<text transform="translate(547.2 653.6) scale(1.022 1)">PTGS2</text>
<text transform="translate(547.2 689.6) scale(1.022 1)">IL1B</text>
<text transform="translate(547.2 725.6) scale(1.022 1)">CD27</text>
<text transform="translate(547.2 761.6) scale(1.022 1)">AC141272.1</text>
<text transform="translate(547.2 797.6) scale(1.022 1)">TXNDC11</text>
<text transform="translate(547.2 833.6) scale(1.022 1)">JCHAIN</text>
<text transform="translate(547.2 869.6) scale(1.022 1)">HSP90B1</text>
<text transform="translate(547.2 905.6) scale(1.022 1)">KCNN3</text>
<text transform="translate(547.2 941.6) scale(1.022 1)">MYO1D</text>
<text transform="translate(547.2 977.6) scale(1.022 1)">MIAT</text>
<text transform="translate(547.2 1013.7) scale(1.022 1)">GPR15</text>
<text transform="translate(547.2 1049.7) scale(1.022 1)">BMP8B</text>
<text transform="translate(547.2 1085.7) scale(1.022 1)">MYDGF</text>
<text transform="translate(547.2 1121.7) scale(1.022 1)">AC096579.13</text>
<text transform="translate(547.2 1157.7) scale(1.022 1)">DERL3</text>
<text transform="translate(547.2 1193.7) scale(1.022 1)">TXNDC5</text>
<text transform="translate(547.2 1229.7) scale(1.022 1)">ITM2C</text>
<text transform="translate(547.2 1265.7) scale(1.022 1)">CKAP4</text>
<text transform="translate(547.2 1301.7) scale(1.022 1)">IGLL5</text>
<text transform="translate(547.2 1337.7) scale(1.022 1)">UBE2J1</text>
<text transform="translate(547.2 1373.8) scale(1.022 1)">XBP1</text>
<text transform="translate(547.2 1409.8) scale(1.022 1)">PPIB</text>
<text transform="translate(547.2 1445.8) scale(1.022 1)">MAN1A1</text>
<text transform="translate(547.2 1481.8) scale(1.022 1)">NUGGC</text>
<text transform="translate(547.2 1517.8) scale(1.022 1)">TRAM2</text>
<text transform="translate(547.2 1553.8) scale(1.022 1)">GLCCI1</text>
<text transform="translate(547.2 1589.8) scale(1.022 1)">MZB1</text>
<text transform="translate(547.2 1625.8) scale(1.022 1)">PIM2</text>
<text transform="translate(547.2 1661.8) scale(1.022 1)">TNFRSF17</text>
<text transform="translate(547.2 1697.8) scale(1.022 1)">GAS6</text>
<text transform="translate(547.2 1733.9) scale(1.022 1)">FAM46C</text>
<text transform="translate(547.2 1769.9) scale(1.022 1)">ZBP1</text>
<text transform="translate(547.2 1805.9) scale(1.022 1)">F2R</text>
<text transform="translate(547.2 1841.9) scale(1.022 1)">PDIA4</text>
<text transform="translate(547.2 1877.9) scale(1.022 1)">TPST2</text>
</g>
<g font-family="Liberation Sans, Arial, Helvetica, sans-serif" font-size="41" fill="#111" stroke="#111" stroke-width="0.5">
<text transform="translate(157.1 1893.3) scale(1.045 1) rotate(90)">B3</text>
<text transform="translate(213.7 1893.3) scale(1.045 1) rotate(90)">B4</text>
<text transform="translate(270.3 1893.3) scale(1.045 1) rotate(90)">B5</text>
<text transform="translate(326.9 1893.3) scale(1.045 1) rotate(90)">B6</text>
<text transform="translate(383.5 1893.3) scale(1.045 1) rotate(90)">B8</text>
<text transform="translate(440.1 1893.3) scale(1.045 1) rotate(90)">B9</text>
<text transform="translate(496.7 1893.3) scale(1.045 1) rotate(90)">B10</text>
</g>
<rect x="754" y="17.5" width="25" height="385" fill="url(#lg)"/>
<g font-family="Liberation Sans, Arial, Helvetica, sans-serif" font-size="25" fill="#111" stroke="#111" stroke-width="0.35">
<text transform="translate(789.9 27.1) scale(1.045 1)">3</text>
<text transform="translate(789.9 91.3) scale(1.045 1)">2</text>
<text transform="translate(789.9 155.4) scale(1.045 1)">1</text>
<text transform="translate(789.9 219.6) scale(1.045 1)">0</text>
<text transform="translate(789.9 283.8) scale(1.045 1)">-1</text>
<text transform="translate(789.9 347.9) scale(1.045 1)">-2</text>
<text transform="translate(789.9 412.1) scale(1.045 1)">-3</text>
</g>
<g font-family="Liberation Sans, Arial, Helvetica, sans-serif" font-size="24.4" fill="#111" stroke="#111" stroke-width="0.35">
<text transform="translate(828.3 35.5) scale(1.045 1)" font-weight="bold">Activation</text>
<rect x="828" y="45.7" width="36.4" height="36.4" fill="#ff3344" stroke="#9a9a9a" stroke-width="1"/>
<text transform="translate(871.4 73.3) scale(1.045 1)" font-size="25.3">Yes</text>
<text transform="translate(828.3 128.7) scale(1.045 1)" font-weight="bold">Exosome</text>
<rect x="828" y="138.4" width="36.4" height="36.3" fill="#0064eb" stroke="#9a9a9a" stroke-width="1"/>
<rect x="828" y="174.7" width="36.4" height="36.6" fill="#00ee66" stroke="#9a9a9a" stroke-width="1"/>
<text transform="translate(871.4 165.7) scale(1.045 1)" font-size="25.3">No</text>
<text transform="translate(871.4 202.1) scale(1.045 1)" font-size="25.3">Yes</text>
</g>
</svg>
</body></html>
